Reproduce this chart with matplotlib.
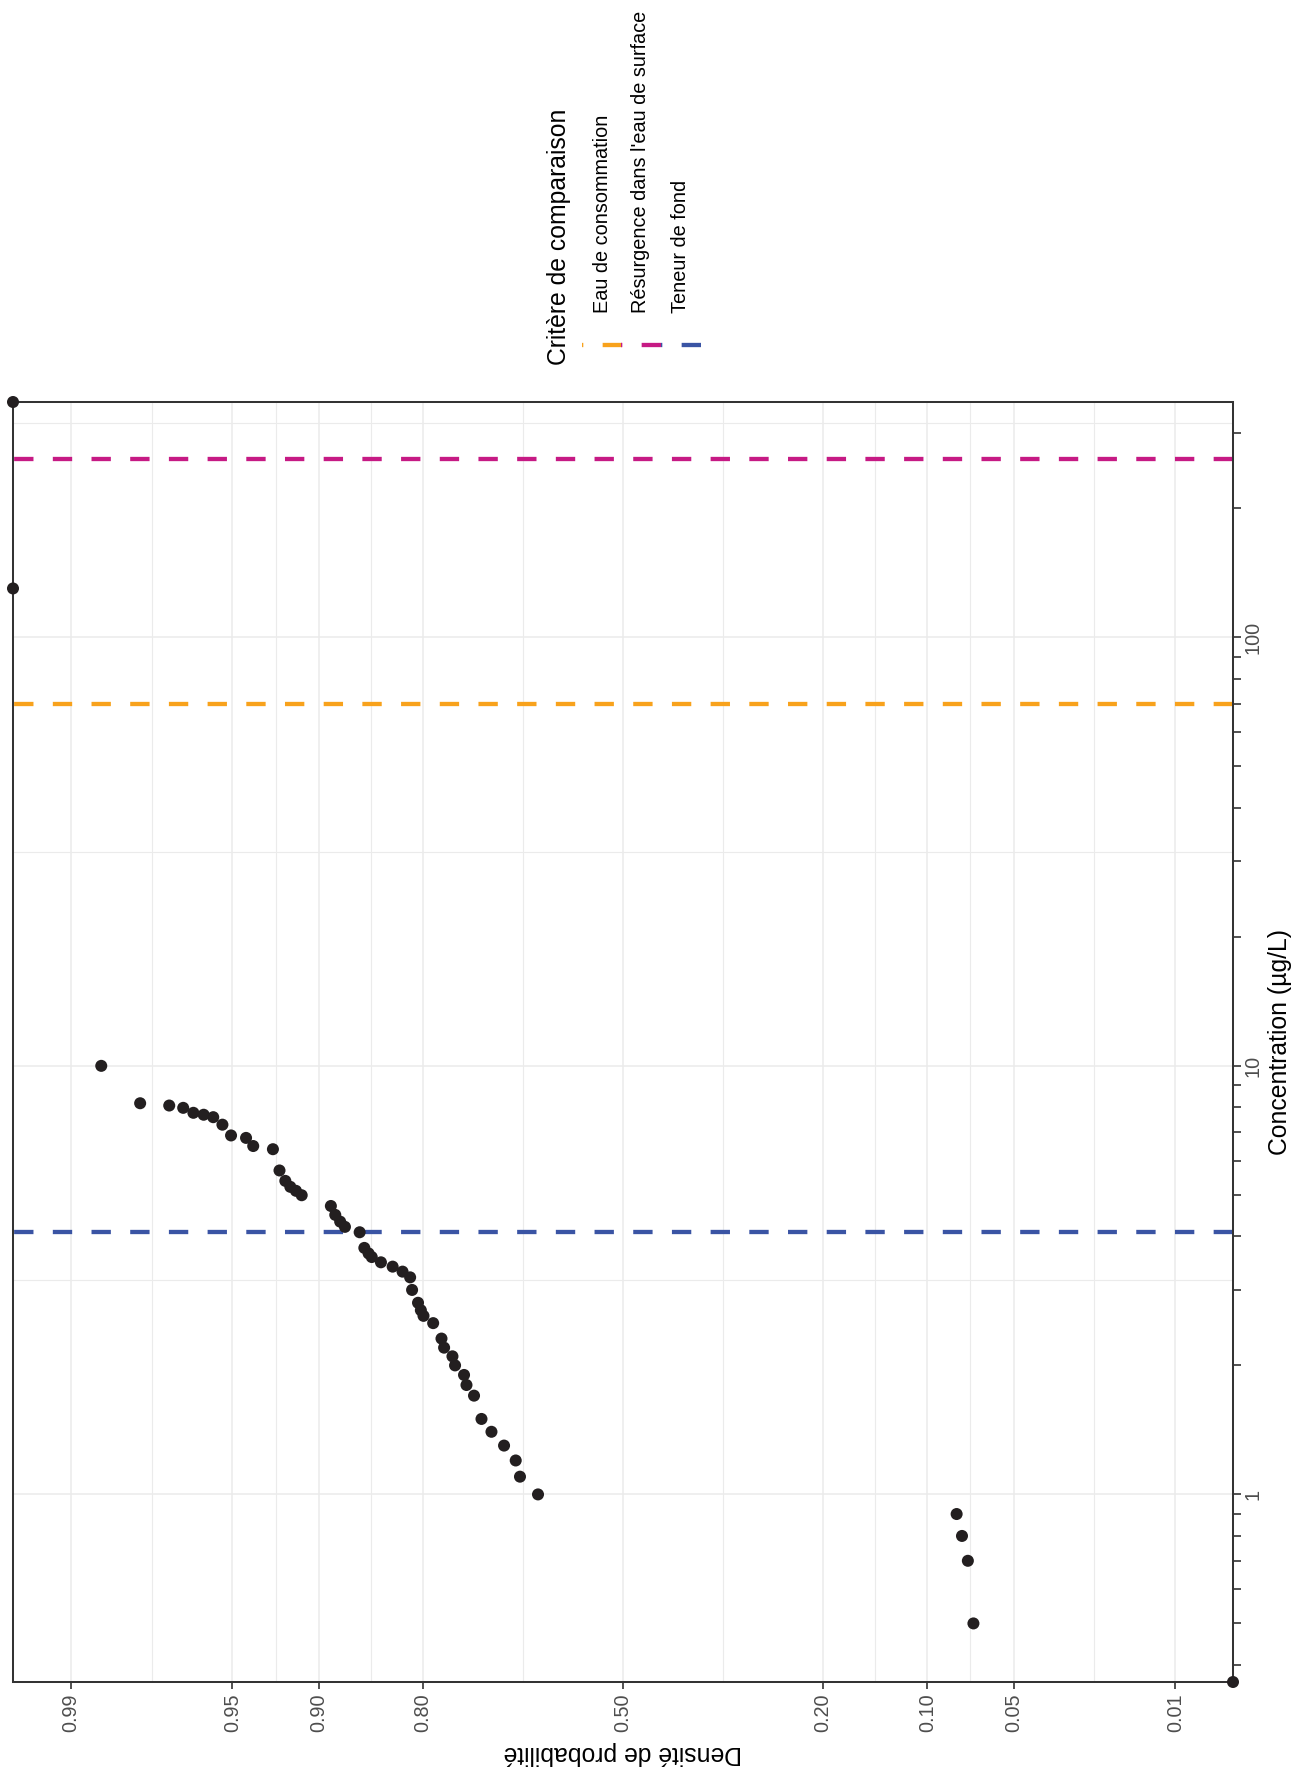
import numpy as np
import matplotlib
matplotlib.use("Agg")
import matplotlib.pyplot as plt
from matplotlib.lines import Line2D
from matplotlib.ticker import LogLocator, NullLocator, NullFormatter
from statistics import NormalDist

plt.rcParams['font.family'] = ['Liberation Sans', 'DejaVu Sans']
plt.rcParams['lines.scale_dashes'] = False

# donnees : concentration (ug/L) et densite de probabilite
conc = [354, 130, 10.0, 8.18, 8.08, 7.98, 7.77, 7.69, 7.59, 7.29, 6.88, 6.79,
        6.50, 6.39, 5.70, 5.39, 5.22, 5.11, 4.99, 4.71, 4.49, 4.33, 4.21, 4.09,
        3.76, 3.65, 3.58, 3.48, 3.40, 3.31, 3.21, 3.00, 2.80, 2.69, 2.61, 2.51,
        2.31, 2.20, 2.10, 2.00, 1.90, 1.80, 1.70, 1.50, 1.40, 1.30, 1.20, 1.10,
        1.00, 0.90, 0.80, 0.70, 0.50, 0.365]
prob = [0.9949, 0.9949, 0.986, 0.979, 0.972, 0.968, 0.9648, 0.9613, 0.9578,
        0.9542, 0.9506, 0.9438, 0.9403, 0.9298, 0.926, 0.9225, 0.9194, 0.9158,
        0.912, 0.8907, 0.8872, 0.8832, 0.8792, 0.8663, 0.862, 0.858, 0.855,
        0.846, 0.834, 0.8234, 0.815, 0.8128, 0.806, 0.8027, 0.7996, 0.788,
        0.7777, 0.7744, 0.7637, 0.7603, 0.7484, 0.7451, 0.7348, 0.7244, 0.7102,
        0.6918, 0.6743, 0.6678, 0.6398, 0.080, 0.0767, 0.0732, 0.070, 0.0051]

# criteres de comparaison
crit_noms = ["Eau de consommation", "Résurgence dans l'eau de surface", "Teneur de fond"]
crit_vals = [70, 260, 4.1]
crit_cols = ["#F8A21C", "#C61A84", "#3A54A4"]

prob_ticks = [0.99, 0.95, 0.90, 0.80, 0.50, 0.20, 0.10, 0.05, 0.01]
conc_ticks = [1, 10, 100]

nd = NormalDist()

def probit(p):
    p = np.clip(np.asarray(p, dtype=float), 1e-9, 1 - 1e-9)
    return np.vectorize(nd.inv_cdf, otypes=[float])(p)

def inv_probit(z):
    return np.vectorize(nd.cdf, otypes=[float])(np.asarray(z, dtype=float))

W, H = 1298, 1775
def fx(x):
    return x / W
def fy(y):
    return 1 - y / H

fig = plt.figure(figsize=(W / 100, H / 100), dpi=100)
ax = fig.add_axes([fx(13), fy(1682), 1220 / W, 1280 / H])
ax.set_xscale('function', functions=(probit, inv_probit))
ax.set_yscale('log')

# grille (majeure + mineure au milieu)
gcol = '#EBEBEB'
z = probit(prob_ticks)
for p in prob_ticks:
    ax.axvline(p, color=gcol, lw=1.1, zorder=0.5)
for p in inv_probit((z[:-1] + z[1:]) / 2):
    ax.axvline(p, color=gcol, lw=0.8, zorder=0.5)
for c in conc_ticks:
    ax.axhline(c, color=gcol, lw=1.1, zorder=0.5)
for c in [0.1, 1, 10, 100]:
    ax.axhline(c * 10 ** 0.5, color=gcol, lw=0.8, zorder=0.5)

# lignes des criteres (tirets depuis le bord droit)
for v, col in zip(crit_vals, crit_cols):
    ax.plot([1, 0], [v, v], transform=ax.get_yaxis_transform(), color=col,
            lw=3.1, dashes=(13.93, 13.93), solid_capstyle='butt', zorder=2)

ax.scatter(prob, conc, s=75, color='#231F20', edgecolors='none', zorder=4, clip_on=False)

ax.set_xlim(max(prob), min(prob))
ax.set_ylim(min(conc), max(conc))

ax.set_xticks(prob_ticks)
ax.set_xticklabels([f"{p:.2f}" for p in prob_ticks], rotation=90)
ax.xaxis.set_minor_locator(NullLocator())

ax.yaxis.tick_right()
ax.set_yticks(conc_ticks)
ax.set_yticklabels([str(c) for c in conc_ticks], rotation=90, va='center')
ax.yaxis.set_minor_locator(LogLocator(base=10, subs=np.arange(2, 10)))
ax.yaxis.set_minor_formatter(NullFormatter())

ax.tick_params(axis='x', direction='out', length=4.8, width=1.2, color='#333333',
               pad=3.2, labelsize=14.3, labelcolor='#4D4D4D')
ax.tick_params(axis='y', which='both', direction='out', length=5.5, width=1.2,
               color='#333333', pad=2, labelsize=14.3, labelcolor='#4D4D4D',
               left=False, right=True, labelleft=False, labelright=True)
for s in ax.spines.values():
    s.set_color('#333333')
    s.set_linewidth(1.45)

# titres des axes (figure pivotee)
fig.text(fx(623), fy(1753), "Densité de probabilité", rotation=180,
         ha='center', va='center', fontsize=17.85)
fig.text(fx(1280.5), fy(1042), "Concentration (µg/L)", rotation=90,
         ha='center', va='center', fontsize=17.85)

# legende
fig.text(fx(559), fy(365), "Critère de comparaison", rotation=90,
         ha='center', va='bottom', fontsize=17.85)
rows = [602, 641, 681]
for r, nom, col in zip(rows, crit_noms, crit_cols):
    fig.text(fx(r), fy(313), nom, rotation=90, ha='center', va='bottom',
             fontsize=14.3, color='black')
    fig.add_artist(Line2D([fx(r + 19.85), fx(r - 19.85)], [fy(345), fy(345)],
                          transform=fig.transFigure, color=col, lw=3.1,
                          dashes=(13.93, 13.93)))

fig.savefig("out.png", dpi=100)
